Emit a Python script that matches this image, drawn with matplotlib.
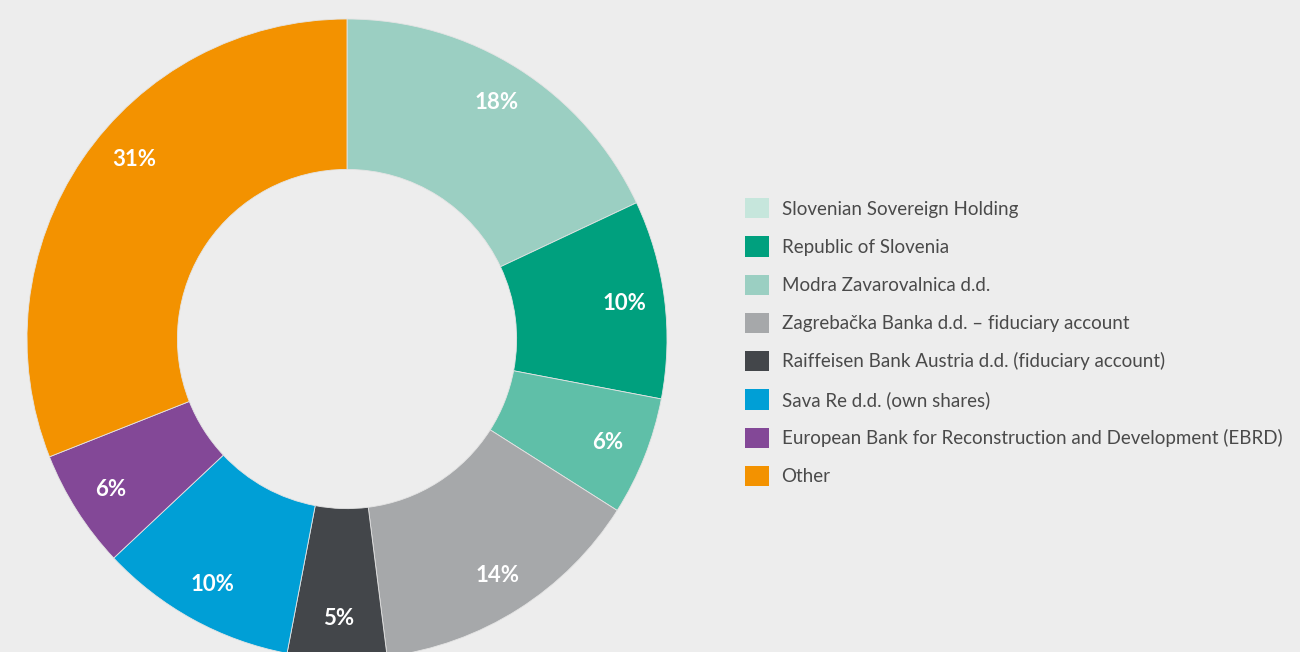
import numpy as np
import matplotlib.pyplot as plt
import matplotlib as mpl
from matplotlib.patches import Patch

mpl.rcParams['font.family'] = ['Lato', 'DejaVu Sans']

# shareholder data
labels = ['Slovenian Sovereign Holding', 'Republic of Slovenia', 'Modra Zavarovalnica d.d.',
          'Zagrebačka Banka d.d. – fiduciary account', 'Raiffeisen Bank Austria d.d. (fiduciary account)',
          'Sava Re d.d. (own shares)', 'European Bank for Reconstruction and Development (EBRD)', 'Other']
shares = [18, 10, 6, 14, 5, 10, 6, 31]
pie_colors = ['#9bcfc2', '#00a07e', '#5fbfa8', '#a6a8aa', '#43464a', '#009fd6', '#834897', '#f39200']
legend_colors = ['#c6e6dc', '#00a07e', '#9bcfc2', '#a6a8aa', '#43464a', '#009fd6', '#834897', '#f39200']

bg = '#ededed'
fig = plt.figure(figsize=(13, 6.52), dpi=100, facecolor=bg)
ax = fig.add_axes([0, 0, 1, 1])
ax.set_facecolor(bg)

R = 320
cx, cy = 347, 313
wedges, texts, autotexts = ax.pie(shares, colors=pie_colors, startangle=90, counterclock=False,
                                  center=(cx, cy), radius=R, frame=True,
                                  autopct='%d%%', pctdistance=0.875,
                                  wedgeprops=dict(width=R * 0.47, edgecolor='#e4e4e4', linewidth=0.6),
                                  textprops=dict(color='white', fontsize=16, fontweight='bold'))
ax.set_xlim(0, 1300)
ax.set_ylim(0, 652)
ax.set_aspect('equal')
ax.axis('off')

# the "Other" label sits a bit higher than the wedge middle
w = wedges[-1]
ang = np.deg2rad((w.theta1 + w.theta2) / 2 - 6)
autotexts[-1].set_position((cx + 0.87 * R * np.cos(ang), cy + 0.87 * R * np.sin(ang)))

handles = [Patch(facecolor=c, edgecolor='none') for c in legend_colors]
leg = fig.legend(handles, labels, loc='upper left', bbox_to_anchor=(745 / 1300, 1 - 198 / 652),
                 frameon=False, fontsize=13.5, handlelength=1.3, handleheight=1.3,
                 labelspacing=0.95, handletextpad=0.65, borderpad=0, borderaxespad=0)
for t in leg.get_texts():
    t.set_color('#4a4a4a')

plt.savefig('out.png', dpi=100, facecolor=bg)
